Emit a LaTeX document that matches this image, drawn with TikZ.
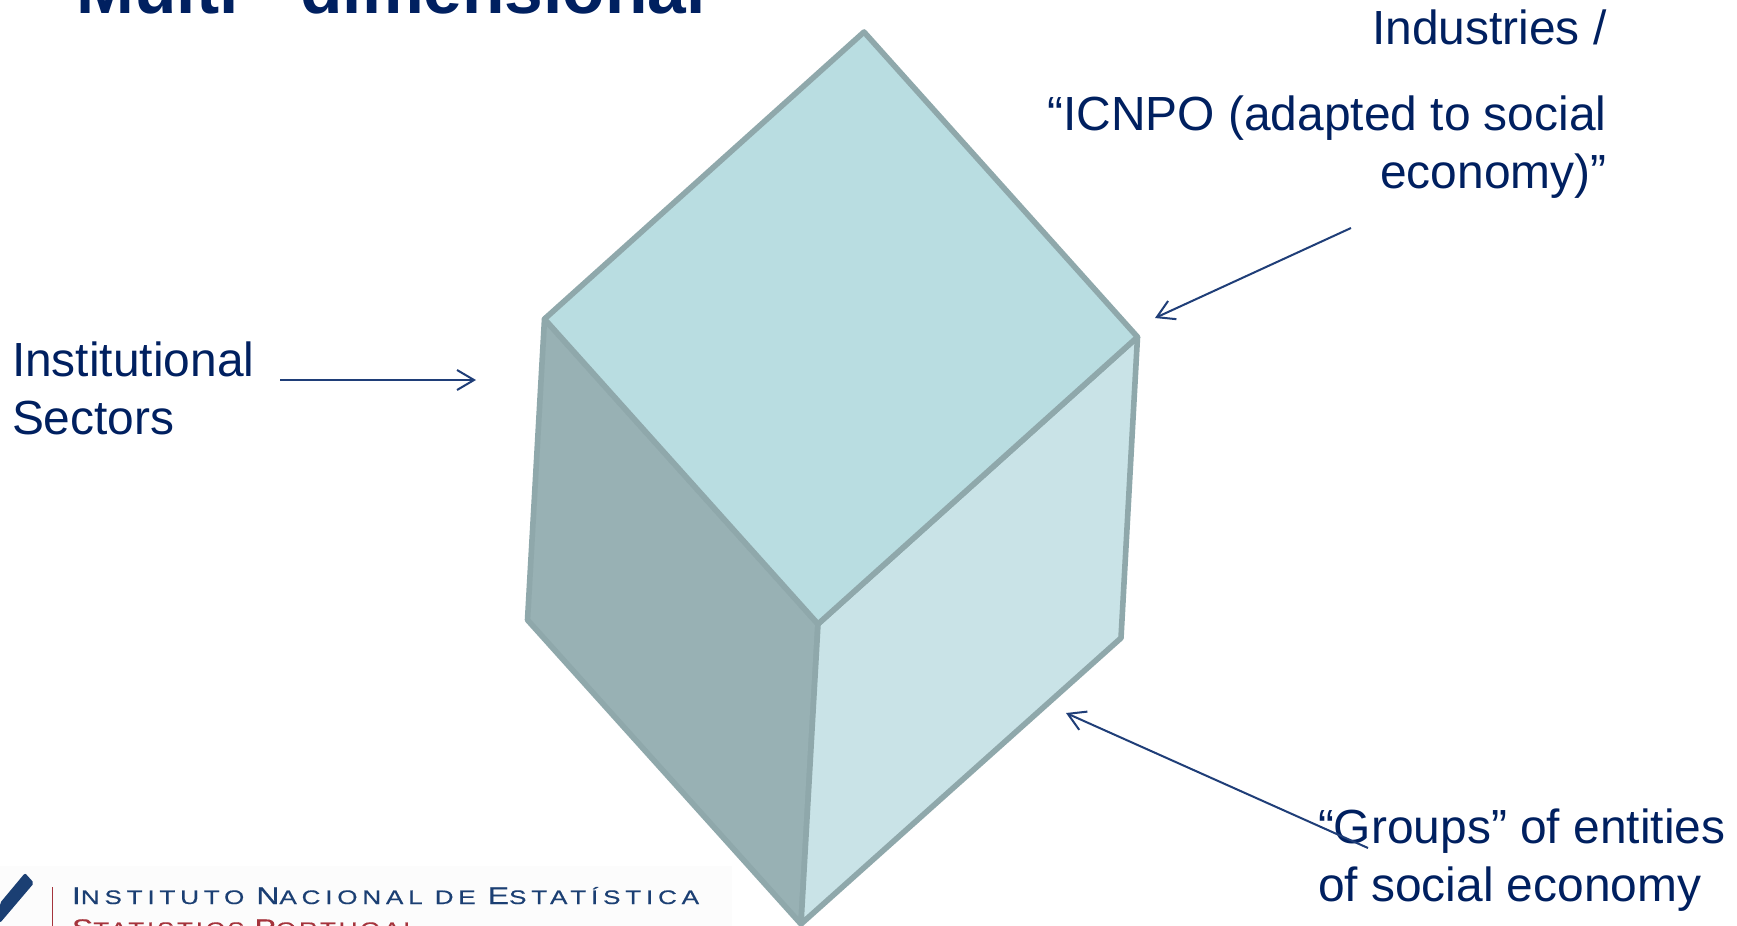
\documentclass[tikz,border=0pt]{standalone}
\usepackage{fontspec}
\setmainfont{Liberation Sans}
\newfontfamily\logofont[FakeStretch=1.33,FakeBold=0.4,LetterSpace=24.5]{Liberation Sans}
\newfontfamily\logofontb[FakeStretch=1.33,FakeBold=0.4,LetterSpace=14]{Liberation Sans}
\usetikzlibrary{arrows.meta}
\definecolor{navy}{HTML}{002060}
\definecolor{arrowblue}{HTML}{1F3E78}
\definecolor{edgec}{HTML}{8FA8AB}
\definecolor{topc}{HTML}{B9DDE1}
\definecolor{leftc}{HTML}{98B1B4}
\definecolor{rightc}{HTML}{C9E3E7}
\definecolor{logoblue}{HTML}{1B3F73}
\definecolor{logored}{HTML}{A5343C}
\definecolor{logobg}{HTML}{FCFCFC}
\newcommand{\logoB}{\fontsize{12}{14}\selectfont}
\newcommand{\logoS}{\fontsize{9.8}{12}\selectfont}
\tikzset{
  x=0.5pt,y=-0.5pt,
  face/.style={draw=edgec,line width=2.8pt,line join=round},
  lab/.style={text=navy,font=\fontsize{23.95}{29}\selectfont,inner sep=0pt,outer sep=0pt},
  ptr/.style={draw=arrowblue,line width=1pt,-{Straight Barb[length=8.5pt,width=10pt,line width=1pt]}},
  logotext/.style={inner sep=0pt,outer sep=0pt,anchor=base west}
}
\begin{document}
\begin{tikzpicture}
\useasboundingbox (0,0) rectangle (1737,926);
\clip (0,0) rectangle (1737,926);
\fill[white] (0,0) rectangle (1737,926);
% logo
\fill[logobg] (0,866) rectangle (732,926);
\fill[logoblue,rounded corners=1pt] (0,903) -- (25,873) -- (34,883) -- (0,923) -- cycle;
\fill[logored] (51.5,887) rectangle (53,926);
\node[logotext,text=logoblue,font=\logofont] (inst) at (72,904) {\logoB I\logoS NSTITUTO \logoB N\logoS ACIONAL DE \logoB E\logoS STATÍSTICA};
\node[logotext,text=logored,font=\logofontb] (stat) at (72,936) {\logoB S\logoS TATISTICS \logoB P\logoS ORTUGAL};
% cube
\coordinate (top) at (864,32);
\coordinate (right) at (1137.5,337);
\coordinate (center) at (818,624);
\coordinate (left) at (544.5,319);
\coordinate (ll) at (527.5,620);
\coordinate (bottom) at (801,924);
\coordinate (lr) at (1121,638);
\draw[face,fill=leftc] (left) -- (center) -- (bottom) -- (ll) -- cycle;
\draw[face,fill=rightc] (right) -- (center) -- (bottom) -- (lr) -- cycle;
\draw[face,fill=topc] (top) -- (right) -- (center) -- (left) -- cycle;
% title
\node[text=navy,font=\bfseries\fontsize{34.75}{40}\selectfont,inner sep=0pt,anchor=base west] (title) at (76,13) {Multi - dimensional};
% labels
\node[lab,anchor=base west] (sec1) at (12,376) {Institutional};
\node[lab,anchor=base west] (sec2) at (12,434) {Sectors};
\node[lab,anchor=base east] (ind1) at (1606.5,45) {Industries /};
\node[lab,anchor=base east] (ind2) at (1606.5,130) {“ICNPO (adapted to social};
\node[lab,anchor=base east] (ind3) at (1606.5,188) {economy)”};
\node[lab,anchor=base west] (grp1) at (1318,843) {“Groups” of entities};
\node[lab,anchor=base west] (grp2) at (1318,901) {of social economy};
% arrows
\coordinate (a1s) at (280,380); \coordinate (a1e) at (476,380);
\coordinate (a2s) at (1351,228); \coordinate (a2e) at (1155,318);
\coordinate (a3s) at (1368,848); \coordinate (a3e) at (1066,713);
\draw[ptr] (a1s) -- (a1e);
\draw[ptr] (a2s) -- (a2e);
\draw[ptr] (a3s) -- (a3e);
\end{tikzpicture}
\end{document}
